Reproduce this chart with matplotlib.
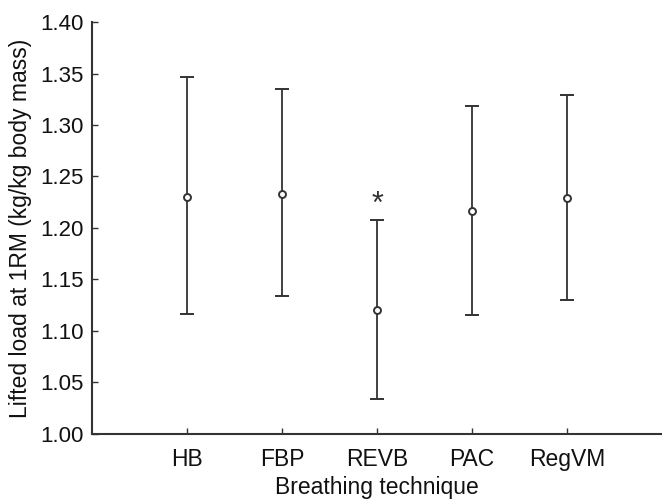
import numpy as np
import matplotlib.pyplot as plt

plt.rcParams['font.family'] = ['Liberation Sans', 'DejaVu Sans']

techniques = ['HB', 'FBP', 'REVB', 'PAC', 'RegVM']
means = [1.230, 1.233, 1.120, 1.216, 1.229]
upper = [1.347, 1.335, 1.208, 1.318, 1.329]
lower = [1.116, 1.134, 1.034, 1.115, 1.130]
yticks = [1.00, 1.05, 1.10, 1.15, 1.20, 1.25, 1.30, 1.35, 1.40]

x = np.arange(1, len(techniques) + 1)
m = np.array(means)
err = [m - np.array(lower), np.array(upper) - m]

fig = plt.figure(figsize=(6.62, 5.01), dpi=100)
ax = fig.add_axes([0.139, 0.134, 0.861, 0.822])

col = '#333333'
ax.errorbar(x, m, yerr=err, fmt='o', color=col, ecolor=col, elinewidth=1.3,
            capsize=5, capthick=1.3, markersize=5, markerfacecolor='white',
            markeredgewidth=1.4)

# significance mark over REVB
ax.text(x[2], upper[2] + 0.014, '*', ha='center', va='center', fontsize=22, color=col)

ax.set_xlim(0, 6)
ax.set_ylim(1.0, 1.4)
ax.set_xticks(x)
ax.set_xticklabels(techniques)
ax.set_yticks(yticks)
ax.set_yticklabels(['%.2f' % v for v in yticks])
ax.tick_params(direction='in', length=4, width=1, color=col, labelsize=16,
               labelcolor='#111111')
ax.tick_params(axis='x', pad=10, labelsize=16.5)
ax.tick_params(axis='y', pad=6)

for s in ['top', 'right']:
    ax.spines[s].set_visible(False)
for s in ['left', 'bottom']:
    ax.spines[s].set_color(col)
    ax.spines[s].set_linewidth(1.5)

ax.set_xlabel('Breathing technique', fontsize=16.5, color='#111111', labelpad=4)
ax.set_ylabel('Lifted load at 1RM (kg/kg body mass)', fontsize=16.5, color='#111111', labelpad=6)

plt.savefig('out.png', dpi=100)
